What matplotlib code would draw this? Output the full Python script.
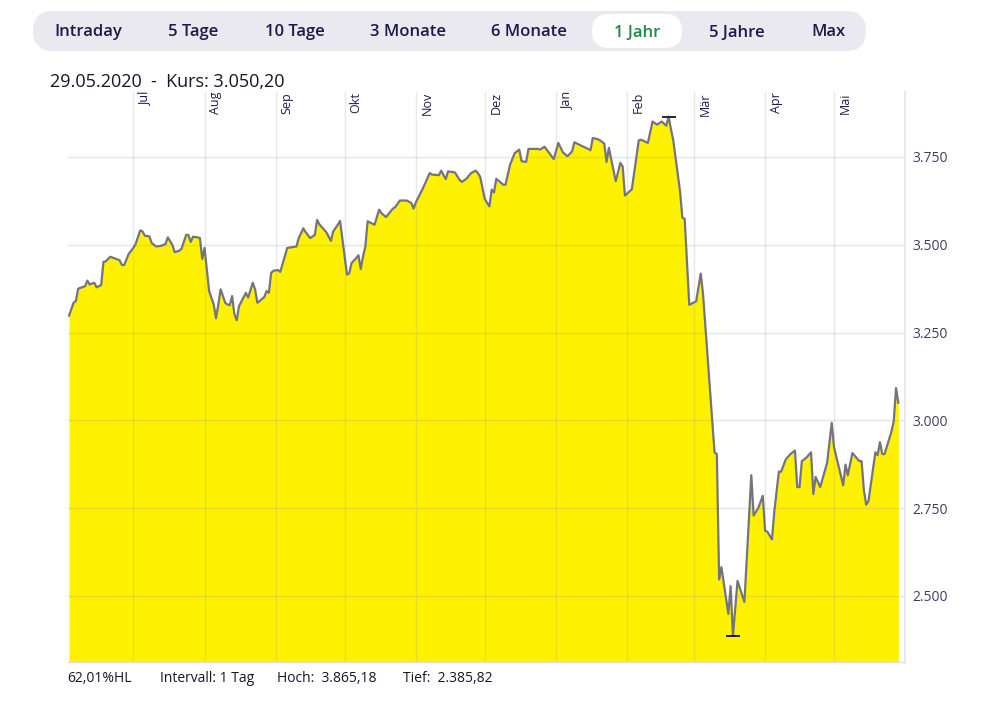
"""
Kursverlauf ueber 1 Jahr (Stand 29.05.2020) als gelber Flaechenchart,
mit Zeitraum-Leiste oben und Hoch/Tief-Zeile unten.
"""

import numpy as np
import pandas as pd
import matplotlib
matplotlib.use('Agg')
import matplotlib.pyplot as plt
from matplotlib.patches import FancyBboxPatch

# Data
dates = [
    '2019-06-03', '2019-06-05', '2019-06-06', '2019-06-07', '2019-06-10', '2019-06-11',
    '2019-06-12', '2019-06-14', '2019-06-15', '2019-06-17', '2019-06-18', '2019-06-19',
    '2019-06-21', '2019-06-25', '2019-06-26', '2019-06-27', '2019-06-29', '2019-07-01',
    '2019-07-02', '2019-07-04', '2019-07-05', '2019-07-06', '2019-07-08', '2019-07-09',
    '2019-07-11', '2019-07-13', '2019-07-15', '2019-07-16', '2019-07-18', '2019-07-19',
    '2019-07-21', '2019-07-22', '2019-07-24', '2019-07-25', '2019-07-26', '2019-07-27',
    '2019-07-29', '2019-07-30', '2019-07-31', '2019-08-01', '2019-08-03', '2019-08-05',
    '2019-08-06', '2019-08-07', '2019-08-08', '2019-08-10', '2019-08-11', '2019-08-12',
    '2019-08-13', '2019-08-14', '2019-08-15', '2019-08-16', '2019-08-19', '2019-08-20',
    '2019-08-22', '2019-08-23', '2019-08-24', '2019-08-25', '2019-08-27', '2019-08-28',
    '2019-08-29', '2019-08-30', '2019-08-31', '2019-09-02', '2019-09-03', '2019-09-06',
    '2019-09-07', '2019-09-10', '2019-09-11', '2019-09-13', '2019-09-14', '2019-09-16',
    '2019-09-18', '2019-09-19', '2019-09-20', '2019-09-23', '2019-09-25', '2019-09-26',
    '2019-09-28', '2019-09-29', '2019-10-02', '2019-10-03', '2019-10-04', '2019-10-06',
    '2019-10-07', '2019-10-08', '2019-10-09', '2019-10-10', '2019-10-11', '2019-10-14',
    '2019-10-16', '2019-10-17', '2019-10-19', '2019-10-21', '2019-10-22', '2019-10-23',
    '2019-10-25', '2019-10-28', '2019-10-30', '2019-10-31', '2019-11-01', '2019-11-04',
    '2019-11-07', '2019-11-08', '2019-11-11', '2019-11-12', '2019-11-14', '2019-11-15',
    '2019-11-18', '2019-11-20', '2019-11-21', '2019-11-23', '2019-11-25', '2019-11-27',
    '2019-11-28', '2019-11-29', '2019-12-01', '2019-12-03', '2019-12-04', '2019-12-05',
    '2019-12-06', '2019-12-09', '2019-12-10', '2019-12-12', '2019-12-14', '2019-12-16',
    '2019-12-17', '2019-12-19', '2019-12-20', '2019-12-24', '2019-12-25', '2019-12-27',
    '2019-12-31', '2020-01-02', '2020-01-04', '2020-01-06', '2020-01-08', '2020-01-09',
    '2020-01-12', '2020-01-15', '2020-01-16', '2020-01-17', '2020-01-19', '2020-01-20',
    '2020-01-22', '2020-01-23', '2020-01-24', '2020-01-27', '2020-01-29', '2020-01-30',
    '2020-01-31', '2020-02-03', '2020-02-06', '2020-02-07', '2020-02-10', '2020-02-12',
    '2020-02-14', '2020-02-16', '2020-02-18', '2020-02-19', '2020-02-20', '2020-02-21',
    '2020-02-24', '2020-02-25', '2020-02-26', '2020-02-28', '2020-03-02', '2020-03-04',
    '2020-03-05', '2020-03-10', '2020-03-11', '2020-03-12', '2020-03-13', '2020-03-16',
    '2020-03-17', '2020-03-18', '2020-03-20', '2020-03-23', '2020-03-26', '2020-03-27',
    '2020-03-29', '2020-03-31', '2020-04-01', '2020-04-02', '2020-04-04', '2020-04-05',
    '2020-04-07', '2020-04-08', '2020-04-10', '2020-04-12', '2020-04-14', '2020-04-15',
    '2020-04-16', '2020-04-17', '2020-04-19', '2020-04-21', '2020-04-22', '2020-04-23',
    '2020-04-25', '2020-04-28', '2020-04-30', '2020-05-01', '2020-05-05', '2020-05-06',
    '2020-05-07', '2020-05-09', '2020-05-12', '2020-05-13', '2020-05-14', '2020-05-15',
    '2020-05-16', '2020-05-19', '2020-05-20', '2020-05-21', '2020-05-22', '2020-05-23',
    '2020-05-26', '2020-05-27', '2020-05-28', '2020-05-29',
]
closes = [
    3298, 3335, 3340, 3375, 3382, 3398,
    3387, 3392, 3379, 3385, 3451, 3453,
    3466, 3456, 3443, 3442, 3474, 3491,
    3502, 3541, 3538, 3526, 3524, 3505,
    3495, 3497, 3502, 3521, 3500, 3479,
    3483, 3489, 3528, 3528, 3508, 3523,
    3521, 3519, 3460, 3491, 3368, 3330,
    3291, 3330, 3373, 3335, 3330, 3328,
    3354, 3302, 3285, 3325, 3363, 3350,
    3392, 3373, 3335, 3340, 3351, 3368,
    3363, 3420, 3426, 3428, 3423, 3491,
    3492, 3495, 3519, 3547, 3536, 3519,
    3528, 3571, 3558, 3536, 3511, 3538,
    3557, 3568, 3415, 3419, 3448, 3462,
    3470, 3431, 3467, 3495, 3567, 3557,
    3600, 3590, 3579, 3595, 3603, 3607,
    3626, 3626, 3619, 3603, 3621, 3660,
    3704, 3700, 3698, 3711, 3687, 3709,
    3706, 3685, 3679, 3688, 3704, 3711,
    3704, 3693, 3630, 3609, 3657, 3649,
    3688, 3671, 3671, 3728, 3761, 3771,
    3738, 3736, 3773, 3773, 3771, 3779,
    3744, 3790, 3763, 3752, 3766, 3792,
    3782, 3773, 3769, 3804, 3801, 3798,
    3788, 3736, 3776, 3681, 3733, 3723,
    3640, 3658, 3797, 3799, 3790, 3851,
    3842, 3851, 3839, 3865.18, 3830, 3799,
    3651, 3577, 3574, 3329, 3339, 3418,
    3359, 2909, 2904, 2547, 2582, 2449,
    2528, 2385.82, 2543, 2483, 2844, 2729,
    2750, 2785, 2686, 2683, 2661, 2740,
    2854, 2854, 2889, 2904, 2914, 2810,
    2810, 2884, 2894, 2909, 2790, 2839,
    2810, 2879, 2993, 2924, 2815, 2874,
    2844, 2907, 2884, 2884, 2802, 2760,
    2770, 2909, 2901, 2938, 2904, 2904,
    2968, 2998, 3092, 3050.20,
]

months = ['Jul', 'Aug', 'Sep', 'Okt', 'Nov', 'Dez', 'Jan', 'Feb', 'Mär', 'Apr', 'Mai']
month_starts = ['2019-07-01', '2019-08-01', '2019-09-01', '2019-10-01', '2019-11-01',
                '2019-12-01', '2020-01-01', '2020-02-01', '2020-03-01', '2020-04-01',
                '2020-05-01']
yticks = [2500, 2750, 3000, 3250, 3500, 3750]
ytick_labels = ['2.500', '2.750', '3.000', '3.250', '3.500', '3.750']
tabs = ['Intraday', '5 Tage', '10 Tage', '3 Monate', '6 Monate', '1 Jahr', '5 Jahre', 'Max']
active_tab = '1 Jahr'
interval = '1 Tag'

# Layout (pixels of the 1003x710 picture)
W, H = 1003, 710
tab_x = [88, 193, 295, 408, 529, 637, 737, 828]
ymin, ymax = 2312, 3935

FONT = ['Open Sans', 'DejaVu Sans']
NAVY = '#1c1c4a'


def de(v):
    # 3865.18 -> '3.865,18'
    s = f'{v:,.2f}'
    return s.replace(',', ' ').replace('.', ',').replace(' ', '.')


t = pd.to_datetime(dates)
y = np.array(closes, dtype=float)
hi, lo = y.max(), y.min()
t_hi, t_lo = t[y.argmax()], t[y.argmin()]
hl = (hi - lo) / lo * 100

plt.rcParams['font.family'] = FONT
fig = plt.figure(figsize=(W / 100, H / 100), dpi=100)

# Main chart
ax = fig.add_axes([68 / W, 1 - 662 / H, (905 - 68) / W, (662 - 92) / H])
ax.fill_between(t, y, ymin, color='#fff200', lw=0, zorder=1)
for v in yticks:
    ax.axhline(v, color='#9a9aae', alpha=0.25, lw=1, zorder=2)
for m, name in zip(pd.to_datetime(month_starts), months):
    ax.axvline(m, color='#9a9aae', alpha=0.22, lw=1, zorder=2)
    ax.annotate(name, xy=(m, 1), xycoords=('data', 'axes fraction'),
                xytext=(3.2, 0), textcoords='offset points', rotation=90,
                ha='left', va='top', fontsize=9, color=NAVY)
ax.plot(t, y, color='#74747e', lw=1.6, zorder=3)

# High / low bars
half = pd.Timedelta(days=2.6)
ax.plot([t_hi - half, t_hi + half], [hi, hi], color='#262638', lw=1.4, zorder=4)
ax.plot([t_lo - half, t_lo + half], [lo, lo], color='#1a1a1a', lw=1.4, zorder=4)

ax.set_xlim(t[0] - pd.Timedelta(days=0.43), t[-1] + pd.Timedelta(days=2.9))
ax.set_ylim(ymin, ymax)
ax.set_xticks([])
ax.set_yticks(yticks, ytick_labels)
ax.yaxis.tick_right()
ax.tick_params(axis='y', length=0, pad=5, labelsize=10, labelcolor='#3d3d66')
ax.spines['left'].set_visible(False)
ax.spines['top'].set_visible(False)
ax.spines['right'].set_color('#e8e8ee')
ax.spines['right'].set_linewidth(1.5)
ax.spines['bottom'].set_color('#dedee4')
ax.spines['bottom'].set_linewidth(1)

# Overlay in pixel coordinates for the tab bar and texts
ov = fig.add_axes([0, 0, 1, 1], zorder=5)
ov.set_xlim(0, W)
ov.set_ylim(H, 0)
ov.axis('off')

ov.add_patch(FancyBboxPatch((33, 11), 833, 40, boxstyle='round,pad=0,rounding_size=20',
                            fc='#e9e9ef', ec='none'))
i_act = tabs.index(active_tab)
ov.add_patch(FancyBboxPatch((tab_x[i_act] - 45, 14), 90, 34,
                            boxstyle='round,pad=0,rounding_size=17', fc='white', ec='none'))
for x, name in zip(tab_x, tabs):
    ov.text(x, 36.5, name, ha='center', va='baseline', fontsize=12, fontweight='semibold',
            color='#1e8a46' if name == active_tab else NAVY)

ov.text(50, 87, f'{t[-1]:%d.%m.%Y}  -  Kurs: {de(y[-1])}', ha='left', va='baseline',
        fontsize=13, color='#16162a')

ov.text(67, 681.5, f'{de(hl)}%HL', fontsize=10, color='#16162a', va='baseline')
ov.text(160, 681.5, f'Intervall: {interval}', fontsize=10, color='#16162a', va='baseline')
ov.text(277, 681.5, f'Hoch:  {de(hi)}', fontsize=10, color='#16162a', va='baseline')
ov.text(403, 681.5, f'Tief:  {de(lo)}', fontsize=10, color='#16162a', va='baseline')

fig.savefig('out.png', dpi=100)
